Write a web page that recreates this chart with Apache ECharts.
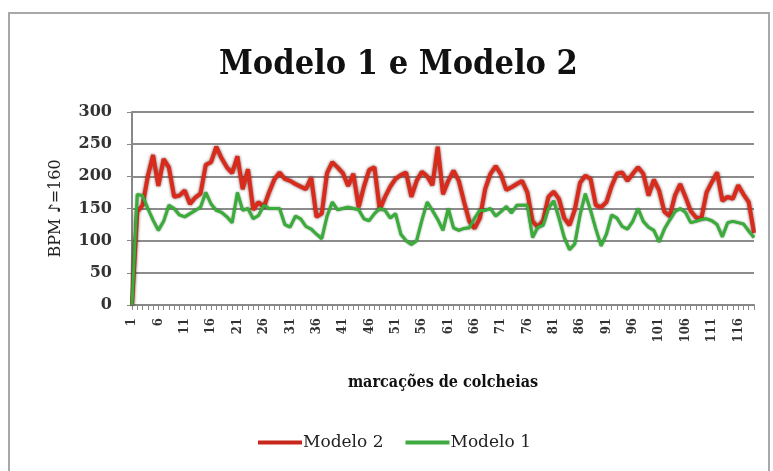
<!DOCTYPE html>
<html>
<head>
<meta charset="utf-8">
<script src="https://cdn.jsdelivr.net/npm/echarts@6/dist/echarts.min.js"></script>
<style>
html,body{margin:0;padding:0;background:#fff;}
#chart{width:773px;height:471px;}
</style>
</head>
<body>
<div id="chart"></div>
<script>
const categories = [];
for (let i = 1; i <= 119; i++) categories.push(String(i));

const modelo2 = [0,145,155,200,233,185,227,214,168,170,
178,157,167,173,218,222,246,228,214,205,
231,180,211,148,160,152,175,195,206,196,
193,188,184,180,198,137,142,205,222,214,
205,185,204,152,184,210,214,148,168,184,
196,202,206,168,193,207,200,186,246,172,
193,209,193,160,130,119,135,180,204,216,
203,179,183,188,193,175,130,121,132,168,
176,165,135,124,148,190,201,196,155,152,
160,185,204,206,193,204,214,204,170,195,
178,145,138,170,188,168,146,136,134,175,
191,206,162,168,165,186,172,160,112];

const modelo1 = [0,172,170,150,132,116,130,155,150,140,
137,142,147,152,175,157,147,144,137,128,
175,147,150,134,139,155,150,150,150,125,
121,138,134,122,118,110,103,138,160,148,
150,152,150,148,134,131,142,150,147,135,
142,110,100,94,100,132,160,147,133,116,
150,120,116,119,120,135,147,147,150,138,
145,153,143,155,155,155,105,121,124,150,
162,135,105,86,95,140,173,147,118,92,
110,140,135,122,118,130,150,130,121,116,
98,118,132,145,150,144,128,130,133,134,
131,125,106,128,130,128,126,115,105];

const yTicks = [0, 50, 100, 150, 200, 250, 300];

const serifC = '"DejaVu Serif Condensed", "DejaVu Serif", serif';
const serif = '"DejaVu Serif", serif';

const chart = echarts.init(document.getElementById('chart'));
chart.setOption({
  animation: false,
  backgroundColor: '#fff',
  graphic: [{
    type: 'rect',
    shape: { x: 9, y: 13, width: 760, height: 470 },
    style: { fill: 'none', stroke: '#a8a8a8', lineWidth: 2 },
    z: -1
  }],
  title: {
    text: 'Modelo 1 e Modelo 2',
    left: 214,
    top: 43,
    textStyle: { fontFamily: serifC, fontWeight: 'bold', fontSize: 34, color: '#111' }
  },
  legend: {
    data: ['Modelo 2', 'Modelo 1'],
    left: 253,
    top: 429,
    itemWidth: 44,
    itemHeight: 4,
    itemGap: 22,
    icon: 'rect',
    textStyle: { fontFamily: serif, fontSize: 17, color: '#222', padding: [0, 0, 0, -4] }
  },
  grid: { left: 132, right: 19, top: 112, bottom: 166 },
  xAxis: {
    type: 'category',
    data: categories,
    boundaryGap: false,
    name: 'marcações de colcheias',
    nameLocation: 'middle',
    nameGap: 70,
    nameTextStyle: { fontFamily: serifC, fontWeight: 'bold', fontSize: 16, color: '#111' },
    axisLine: { lineStyle: { color: '#888', width: 2 } },
    axisTick: { show: true, interval: 0, length: 5, lineStyle: { color: '#888' } },
    axisLabel: {
      interval: 4, rotate: 90, margin: 13,
      fontFamily: serifC, fontWeight: 'bold', fontSize: 13, color: '#333'
    }
  },
  yAxis: {
    type: 'value',
    min: 0, max: 300, interval: 50,
    name: 'BPM ♪=160',
    nameLocation: 'middle',
    nameGap: 68,
    nameRotate: 90,
    nameTextStyle: { fontFamily: serif, fontSize: 16, color: '#222' },
    axisLine: { show: true, lineStyle: { color: '#888', width: 2 } },
    axisTick: { show: true, length: 5, lineStyle: { color: '#888' } },
    axisLabel: {
      margin: 20,
      fontFamily: serif, fontWeight: 'bold', fontSize: 16, color: '#333',
      formatter: function (v) { return yTicks.indexOf(v) >= 0 ? String(v) : ''; }
    },
    splitLine: { lineStyle: { color: '#8c8c8c', width: 2 } }
  },
  series: [
    {
      name: 'Modelo 2', type: 'line', data: modelo2, symbol: 'none',
      itemStyle: { color: '#c8281b' },
      lineStyle: { color: '#d92b1c', width: 4, shadowColor: 'rgba(60,0,0,0.7)', shadowBlur: 3 },
      z: 2
    },
    {
      name: 'Modelo 1', type: 'line', data: modelo1, symbol: 'none',
      itemStyle: { color: '#3faa3f' },
      lineStyle: { color: '#3aac3a', width: 3, shadowColor: 'rgba(0,60,0,0.6)', shadowBlur: 2 },
      z: 3
    }
  ]
});
</script>
</body>
</html>
